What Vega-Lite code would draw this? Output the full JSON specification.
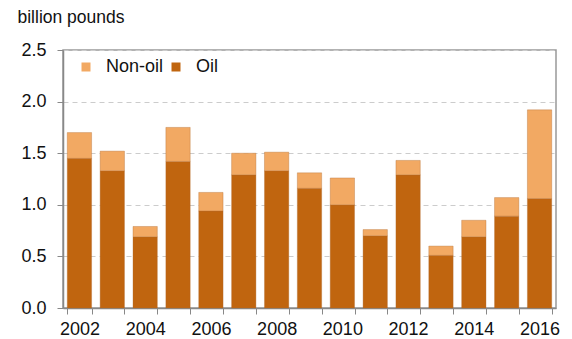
{
  "$schema": "https://vega.github.io/schema/vega-lite/v6.json",
  "width": 493,
  "height": 258,
  "autosize": "none",
  "padding": {"left": 63, "top": 50, "right": 16, "bottom": 31},
  "background": "white",
  "config": {
    "font": "Liberation Sans",
    "view": {"stroke": "#999999", "strokeWidth": 1.5}
  },
  "data": {
    "values": [
      {"year": "2002", "type": "Oil", "value": 1.45}, {"year": "2002", "type": "Non-oil", "value": 0.25},
      {"year": "2003", "type": "Oil", "value": 1.33}, {"year": "2003", "type": "Non-oil", "value": 0.19},
      {"year": "2004", "type": "Oil", "value": 0.69}, {"year": "2004", "type": "Non-oil", "value": 0.10},
      {"year": "2005", "type": "Oil", "value": 1.42}, {"year": "2005", "type": "Non-oil", "value": 0.33},
      {"year": "2006", "type": "Oil", "value": 0.94}, {"year": "2006", "type": "Non-oil", "value": 0.18},
      {"year": "2007", "type": "Oil", "value": 1.29}, {"year": "2007", "type": "Non-oil", "value": 0.21},
      {"year": "2008", "type": "Oil", "value": 1.33}, {"year": "2008", "type": "Non-oil", "value": 0.18},
      {"year": "2009", "type": "Oil", "value": 1.16}, {"year": "2009", "type": "Non-oil", "value": 0.15},
      {"year": "2010", "type": "Oil", "value": 1.00}, {"year": "2010", "type": "Non-oil", "value": 0.26},
      {"year": "2011", "type": "Oil", "value": 0.70}, {"year": "2011", "type": "Non-oil", "value": 0.06},
      {"year": "2012", "type": "Oil", "value": 1.29}, {"year": "2012", "type": "Non-oil", "value": 0.14},
      {"year": "2013", "type": "Oil", "value": 0.51}, {"year": "2013", "type": "Non-oil", "value": 0.09},
      {"year": "2014", "type": "Oil", "value": 0.69}, {"year": "2014", "type": "Non-oil", "value": 0.16},
      {"year": "2015", "type": "Oil", "value": 0.89}, {"year": "2015", "type": "Non-oil", "value": 0.18},
      {"year": "2016", "type": "Oil", "value": 1.06}, {"year": "2016", "type": "Non-oil", "value": 0.86}
    ]
  },
  "mark": {"type": "bar", "stroke": "#b06a30", "strokeWidth": 0.6, "strokeOpacity": 0.6},
  "encoding": {
    "x": {
      "field": "year",
      "type": "ordinal",
      "scale": {"paddingInner": 0.26, "paddingOuter": 0.13},
      "axis": {
        "title": null,
        "labelAngle": 0,
        "labelExpr": "toNumber(datum.value) % 2 == 0 ? datum.label : ''",
        "labelFontSize": 18,
        "labelColor": "#111111",
        "labelPadding": 6,
        "tickBand": "extent",
        "tickSize": 6,
        "tickColor": "#888888",
        "domainColor": "#888888",
        "domainWidth": 1.5,
        "grid": false
      }
    },
    "y": {
      "field": "value",
      "type": "quantitative",
      "aggregate": "sum",
      "stack": "zero",
      "scale": {"domain": [0, 2.5], "nice": false},
      "axis": {
        "title": "billion pounds",
        "titleAngle": 0,
        "titleAlign": "left",
        "titleBaseline": "alphabetic",
        "titleX": -46,
        "titleY": -28,
        "titleFontSize": 17.5,
        "titleFontWeight": "normal",
        "titleColor": "#111111",
        "values": [0, 0.5, 1, 1.5, 2, 2.5],
        "format": ".1f",
        "labelFontSize": 18,
        "labelColor": "#111111",
        "labelPadding": 11,
        "tickSize": 6,
        "tickColor": "#888888",
        "domainColor": "#888888",
        "domainWidth": 1.5,
        "grid": true,
        "gridColor": "#cccccc",
        "gridDash": [5, 4],
        "gridWidth": 1
      }
    },
    "color": {
      "field": "type",
      "type": "nominal",
      "scale": {"domain": ["Non-oil", "Oil"], "range": ["#f2a963", "#c0650f"]},
      "legend": {
        "title": null,
        "orient": "none",
        "legendX": 14,
        "legendY": 8,
        "direction": "horizontal",
        "symbolType": "square",
        "symbolSize": 81,
        "symbolStrokeWidth": 0,
        "labelFontSize": 18,
        "labelColor": "#111111",
        "columnPadding": 3,
        "labelOffset": 11
      }
    },
    "order": {"field": "type", "sort": "descending"}
  }
}
